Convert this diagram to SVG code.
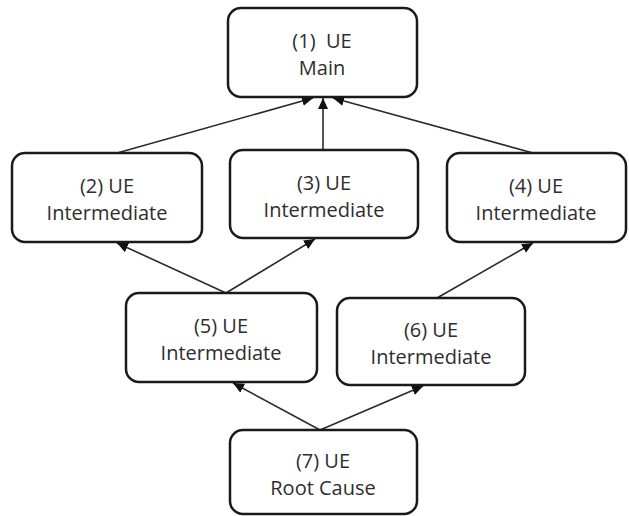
<svg xmlns="http://www.w3.org/2000/svg" width="629" height="516" viewBox="0 0 629 516">
<style>
.box{fill:#fff;stroke:#1a1a1a;stroke-width:2.5}
.t{font-family:"Open Sans","Noto Sans",sans-serif;font-size:20px;fill:#2e2e2e;text-anchor:middle}
.c{stroke:#2a2a2a;stroke-width:1.6;fill:none;marker-end:url(#ah)}
</style>
<defs>
<marker id="ah" markerUnits="userSpaceOnUse" markerWidth="12" markerHeight="12" viewBox="0 0 12 12" refX="11" refY="6" orient="auto">
<path d="M0,1 L11,6 L0,11 Z" fill="#111"/>
</marker>
</defs>
<rect width="629" height="516" fill="#fff"/>
<g id="connectors">
<line class="c" x1="117" y1="153" x2="313" y2="98"/>
<line class="c" x1="323" y1="150" x2="323" y2="98"/>
<line class="c" x1="533" y1="153" x2="333" y2="98"/>
<line class="c" x1="226" y1="293" x2="117" y2="243"/>
<line class="c" x1="226" y1="293" x2="315" y2="239"/>
<line class="c" x1="437" y1="298" x2="533" y2="243"/>
<line class="c" x1="320" y1="430" x2="233" y2="383"/>
<line class="c" x1="320" y1="430" x2="423" y2="386"/>
</g>
<g id="n1"><rect class="box" x="228" y="8" width="189" height="89" rx="13"/><text class="t" x="322" y="48" xml:space="preserve">(1)  UE</text><text class="t" x="322" y="75">Main</text></g>
<g id="n2"><rect class="box" x="12" y="153" width="190" height="89" rx="13"/><text class="t" x="107" y="193">(2) UE</text><text class="t" x="107" y="220">Intermediate</text></g>
<g id="n3"><rect class="box" x="230" y="150" width="188" height="88" rx="13"/><text class="t" x="324" y="190">(3) UE</text><text class="t" x="324" y="217">Intermediate</text></g>
<g id="n4"><rect class="box" x="447" y="153" width="179" height="89" rx="13"/><text class="t" x="536" y="193">(4) UE</text><text class="t" x="536" y="220">Intermediate</text></g>
<g id="n5"><rect class="box" x="126" y="293" width="191" height="89" rx="13"/><text class="t" x="221" y="333">(5) UE</text><text class="t" x="221" y="360">Intermediate</text></g>
<g id="n6"><rect class="box" x="337" y="298" width="188" height="87" rx="13"/><text class="t" x="431" y="337">(6) UE</text><text class="t" x="431" y="364">Intermediate</text></g>
<g id="n7"><rect class="box" x="230" y="430" width="187" height="84" rx="13"/><text class="t" x="323" y="468">(7) UE</text><text class="t" x="323" y="495">Root Cause</text></g>
</svg>
